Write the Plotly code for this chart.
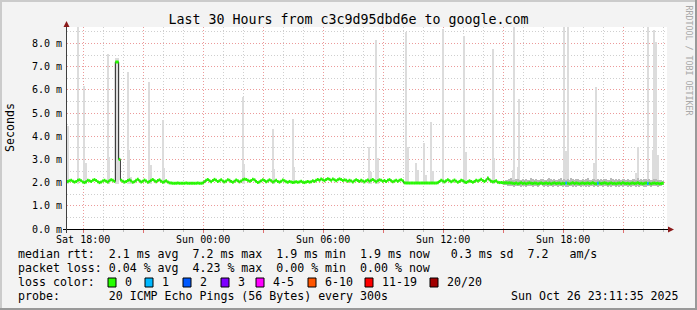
import plotly.graph_objects as go
from datetime import datetime, timedelta

# ---------------- data ----------------
title_text = "Last 30 Hours from c3c9d95dbd6e to google.com"
range_start = datetime(2025, 10, 25, 17, 11, 35)
range_end = datetime(2025, 10, 26, 23, 11, 35)
step_minutes = 5

# median rtt per 5-minute step (ms); None = no data yet
median_ms = [
    2.05, 2.08, 2.10, 2.06, 2.02, 2.05, 2.10, 2.12, 2.08, 2.03, 2.00, 2.04, 2.10, 2.08, 2.05, 2.10, 2.13, 2.09, 2.04, 2.00, 2.03, 2.07, 2.10, 2.06,
    2.03, 2.08, 2.12, 2.10, 2.05, 7.20, 7.20, 3.00, 2.10, 2.06, 2.02, 2.05, 2.09, 2.12, 2.07, 2.02, 2.04, 2.10, 2.14, 2.08, 2.03, 2.06, 2.11, 2.07,
    2.02, 2.05, 2.10, 2.13, 2.08, 2.04, 2.09, 2.12, 2.06, 2.02, 2.04, 2.08, 2.03, 1.99, 1.98, 1.97, 1.97, 1.97, 1.98, 1.97, 1.97, 1.97, 1.97, 1.98,
    1.97, 1.97, 1.97, 1.97, 1.97, 1.97, 1.98, 1.97, 1.97, 1.98, 2.04, 2.10, 2.13, 2.08, 2.04, 2.09, 2.14, 2.10, 2.05, 2.08, 2.12, 2.07, 2.03, 2.07,
    2.12, 2.10, 2.05, 2.02, 2.06, 2.11, 2.08, 2.03, 2.07, 2.12, 2.15, 2.13, 2.10, 2.06, 2.09, 2.14, 2.12, 2.05, 2.00, 2.03, 2.08, 2.12, 2.09, 2.04,
    2.07, 2.12, 2.08, 2.03, 2.06, 2.10, 2.05, 2.02, 2.06, 2.11, 2.08, 2.04, 2.02, 2.05, 2.03, 2.00, 2.02, 2.04, 2.01, 2.03, 2.06, 2.02, 2.00, 2.03,
    2.05, 2.02, 2.04, 2.08, 2.05, 2.10, 2.13, 2.10, 2.15, 2.12, 2.08, 2.13, 2.17, 2.14, 2.10, 2.15, 2.12, 2.08, 2.12, 2.16, 2.13, 2.09, 2.12, 2.10,
    2.06, 2.10, 2.07, 2.03, 2.08, 2.12, 2.09, 2.05, 2.10, 2.07, 2.03, 2.08, 2.11, 2.06, 2.10, 2.13, 2.08, 2.04, 2.08, 2.12, 2.10, 2.06, 2.09, 2.05,
    2.10, 2.13, 2.08, 2.04, 2.07, 2.10, 2.06, 2.10, 2.12, 2.08, 1.99, 1.98, 1.98, 1.98, 1.98, 1.98, 1.98, 1.98, 1.98, 1.98, 1.98, 1.98, 1.98, 1.98,
    1.98, 1.98, 1.98, 1.98, 1.98, 1.98, 1.99, 2.05, 2.10, 2.07, 2.03, 2.08, 2.12, 2.08, 2.04, 2.07, 2.11, 2.06, 2.02, 2.05, 2.10, 2.08, 2.03, 2.00,
    2.04, 2.08, 2.05, 2.01, 2.05, 2.10, 2.07, 2.10, 2.14, 2.09, 2.05, 2.10, 2.20, 2.12, 2.06, 2.04, 2.05, 2.08, 2.02, 2.00, 2.00, 1.99, 1.99, 1.99,
    1.98, 1.99, 1.98, 1.97, 1.96, 1.98, 1.95, 1.97, 1.99, 1.96, 1.98, 1.95, 1.97, 1.99, 1.97, 1.96, 1.98, 1.97, 1.95, 1.97, 1.98, 1.96, 1.97, 1.98,
    1.96, 1.98, 1.95, 1.97, 1.99, 1.96, 1.97, 1.98, 1.95, 1.97, 1.96, 1.98, 1.97, 1.95, 1.97, 1.99, 1.96, 1.98, 1.97, 1.95, 1.97, 1.98, 1.96, 1.97,
    1.98, 1.96, 1.97, 1.99, 1.96, 1.95, 1.97, 1.98, 1.96, 1.97, 1.99, 1.97, 1.95, 1.97, 1.98, 1.96, 1.97, 1.95, 1.97, 1.98, 1.96, 1.99, 1.97, 1.96,
    1.97, 1.95, 1.97, 1.98, 1.96, 1.97, 1.99, 1.96, 1.97, 1.95, 1.97, 1.98, 1.96, 1.97, 1.95, 1.97, 1.98, 1.96, 1.97, 1.95, 1.96, 1.97, None, None,
]

# steps where 1 of 20 pings was lost (others: 0 lost)
loss_one_steps = [299, 318, 348]

# tall smoke (max ping) per step
spike_steps = [0, 6, 10, 11, 24, 25, 29, 30, 36, 37, 38, 49, 50, 57, 58, 105, 106,
               123, 124, 135, 136, 181, 182, 185, 186, 203, 204, 209, 210, 214, 215,
               218, 219, 225, 238, 239, 255, 256, 267, 268, 270, 271, 298, 299, 300,
               316, 317, 341, 342, 348, 351, 352, 353, 354]
spike_top_ms = [4.45, 9.5, 6.16, 2.84, 7.54, 3.10, 7.35, 7.35, 6.77, 3.40, 2.25, 6.34, 2.76, 4.70, 2.63, 5.68, 2.80,
                4.30, 2.59, 4.74, 2.69, 3.55, 2.47, 8.15, 3.05, 8.50, 3.55, 2.86, 2.54, 3.72, 2.33,
                4.61, 2.51, 8.60, 8.30, 3.33, 7.75, 3.05, 2.54, 9.5, 2.69, 5.60, 9.5, 3.37, 9.5,
                2.83, 6.13, 2.41, 3.55, 9.5, 3.40, 8.58, 8.07, 3.19]
spike_floor_ms = 1.95

# denser smoke band (min..max ping) in the latest period
band_first_step = 262
band_lo_ms = [
    1.90, 1.88, 1.86, 1.85, 1.84, 1.86, 1.83, 1.85, 1.87, 1.84, 1.82, 1.85,
    1.86, 1.83, 1.84, 1.87, 1.85, 1.82, 1.84, 1.86, 1.83, 1.85, 1.88, 1.84,
    1.82, 1.85, 1.83, 1.86, 1.84, 1.81, 1.85, 1.87, 1.83, 1.84, 1.86, 1.82,
    1.85, 1.83, 1.80, 1.84, 1.86, 1.83, 1.85, 1.82, 1.84, 1.87, 1.83, 1.85,
    1.84, 1.82, 1.86, 1.83, 1.85, 1.84, 1.81, 1.85, 1.83, 1.86, 1.84, 1.82,
    1.85, 1.87, 1.83, 1.84, 1.82, 1.85, 1.86, 1.83, 1.84, 1.81, 1.85, 1.83,
    1.86, 1.84, 1.82, 1.85, 1.83, 1.86, 1.84, 1.82, 1.85, 1.83, 1.84, 1.86,
    1.83, 1.82, 1.85, 1.84, 1.83, 1.85, 1.84, 1.86, 1.83, 1.85, 1.87, 1.88,
]
band_hi_ms = [
    2.08, 2.10, 2.12, 2.15, 2.18, 2.12, 2.10, 2.14, 2.16, 2.11, 2.13, 2.17,
    2.12, 2.15, 2.10, 2.13, 2.18, 2.14, 2.11, 2.16, 2.12, 2.10, 2.14, 2.17,
    2.13, 2.11, 2.15, 2.19, 2.14, 2.12, 2.16, 2.13, 2.10, 2.15, 2.18, 2.12,
    2.14, 2.11, 2.16, 2.13, 2.20, 2.15, 2.12, 2.14, 2.17, 2.11, 2.13, 2.16,
    2.12, 2.15, 2.18, 2.13, 2.11, 2.14, 2.16, 2.12, 2.15, 2.13, 2.17, 2.12,
    2.14, 2.16, 2.11, 2.13, 2.18, 2.14, 2.12, 2.15, 2.13, 2.16, 2.11, 2.14,
    2.17, 2.12, 2.15, 2.13, 2.11, 2.16, 2.14, 2.12, 2.18, 2.13, 2.15, 2.12,
    2.14, 2.16, 2.12, 2.15, 2.13, 2.11, 2.14, 2.16, 2.12, 2.13, 2.10, 2.08,
]

x_major_ticks = ["2025-10-25 18:00", "2025-10-25 21:00", "2025-10-26 00:00", "2025-10-26 03:00",
                 "2025-10-26 06:00", "2025-10-26 09:00", "2025-10-26 12:00", "2025-10-26 15:00",
                 "2025-10-26 18:00", "2025-10-26 21:00"]
x_major_labels = ["Sat 18:00", "", "Sun 00:00", "", "Sun 06:00", "", "Sun 12:00", "", "Sun 18:00", ""]
y_tick_vals = [0, 1, 2, 3, 4, 5, 6, 7, 8]
y_tick_labels = ["0.0 m", "1.0 m", "2.0 m", "3.0 m", "4.0 m", "5.0 m", "6.0 m", "7.0 m", "8.0 m"]

loss_labels = ["0", "1", "2", "3", "4-5", "6-10", "11-19", "20/20"]
loss_colors = ["#26ff00", "#00b8ff", "#0059ff", "#7e00ff", "#ff00ff", "#ff5500", "#ff0000", "#a10000"]

stats_line1 = "median rtt:  2.1 ms avg  7.2 ms max  1.9 ms min  1.9 ms now   0.3 ms sd  7.2   am/s"
stats_line2 = "packet loss: 0.04 % avg  4.23 % max  0.00 % min  0.00 % now"
stats_line3 = "loss color:"
stats_line4 = "probe:       20 ICMP Echo Pings (56 Bytes) every 300s"
stamp_text = "Sun Oct 26 23:11:35 2025"
watermark = "RRDTOOL / TOBI OETIKER"

# ---------------- layout constants ----------------
W, H = 697, 310
L, R, T, B = 67, 30, 27, 81
PW, PH = W - L - R, H - T - B
MONO = "DejaVu Sans Mono"
step = timedelta(minutes=step_minutes)


def px(xp):
    return (xp - L) / PW


def py(yp):
    return (H - B - yp) / PH


def nb(s):
    return s.replace(" ", "\u00a0")


step_start = [range_start + i * step for i in range(len(median_ms))]
step_mid = [t + step / 2 for t in step_start]

fig = go.Figure()

# light smoke spikes
fig.add_trace(go.Bar(
    x=[step_mid[i] for i in spike_steps],
    y=[v - spike_floor_ms for v in spike_top_ms],
    base=[spike_floor_ms] * len(spike_steps),
    width=step.total_seconds() * 1000,
    marker=dict(color="#dcdcdc", line=dict(width=0)),
    hoverinfo="skip", showlegend=False,
))

# denser smoke band
band_idx = list(range(band_first_step, band_first_step + len(band_lo_ms)))
fig.add_trace(go.Bar(
    x=[step_mid[i] for i in band_idx],
    y=[h - l for l, h in zip(band_lo_ms, band_hi_ms)],
    base=band_lo_ms,
    width=step.total_seconds() * 1000,
    marker=dict(color="#b9b9b9", line=dict(width=0)),
    hoverinfo="skip", showlegend=False,
))

# thin dark median line (steps)
fig.add_trace(go.Scatter(
    x=step_start + [range_start + len(median_ms) * step],
    y=median_ms + [median_ms[-1]],
    mode="lines", line=dict(color="#202020", width=1, shape="hv"),
    hoverinfo="skip", showlegend=False,
))

# coloured median segments by loss
for color, select in ((loss_colors[0], lambda i: i not in loss_one_steps),
                      (loss_colors[1], lambda i: i in loss_one_steps)):
    xs, ys = [], []
    for i, m in enumerate(median_ms):
        if m is None or not select(i):
            continue
        xs += [step_start[i], step_start[i] + step, None]
        ys += [m, m, None]
    fig.add_trace(go.Scatter(x=xs, y=ys, mode="lines",
                             line=dict(color=color, width=3),
                             hoverinfo="skip", showlegend=False))

major_grid = "#ec9a9a"
minor_grid = "#cfcfcf"

fig.update_xaxes(
    type="date", range=[range_start, range_end],
    tickmode="array", tickvals=x_major_ticks, ticktext=x_major_labels,
    showgrid=True, gridcolor=major_grid, griddash="1px,2px", gridwidth=1,
    ticks="outside", ticklen=3, tickcolor="#e07070", ticklabelstandoff=-2,
    tickfont=dict(family=MONO, size=10, color="#000"),
    minor=dict(dtick=3600000, tick0="2025-10-25 00:00", showgrid=True,
               gridcolor=minor_grid, griddash="1px,2px", ticks="outside",
               ticklen=2, tickcolor="#c0c0c0"),
    showline=False, zeroline=False, automargin=False, fixedrange=True,
)
fig.update_yaxes(
    range=[0, PH / 23.2],
    tickmode="array", tickvals=y_tick_vals, ticktext=y_tick_labels,
    showgrid=True, gridcolor=major_grid, griddash="1px,2px", gridwidth=1,
    ticks="", ticklabelstandoff=4,
    tickfont=dict(family=MONO, size=10, color="#000"),
    minor=dict(dtick=0.5, tick0=0, showgrid=True, gridcolor=minor_grid, griddash="1px,2px"),
    showline=False, zeroline=False, automargin=False, fixedrange=True,
)

shapes = []
# outer border
shapes.append(dict(type="line", xref="paper", yref="paper", x0=px(0), x1=px(W), y0=py(1), y1=py(1),
                   line=dict(color="#cbcbcb", width=2)))
shapes.append(dict(type="line", xref="paper", yref="paper", x0=px(1), x1=px(1), y0=py(0), y1=py(H),
                   line=dict(color="#cbcbcb", width=2)))
shapes.append(dict(type="line", xref="paper", yref="paper", x0=px(0), x1=px(W), y0=py(H - 1), y1=py(H - 1),
                   line=dict(color="#999999", width=2)))
shapes.append(dict(type="line", xref="paper", yref="paper", x0=px(W - 1), x1=px(W - 1), y0=py(0), y1=py(H),
                   line=dict(color="#999999", width=2)))
# axes
shapes.append(dict(type="line", xref="paper", yref="paper", x0=px(63), x1=px(669), y0=py(229.5), y1=py(229.5),
                   line=dict(color="#000000", width=1)))
shapes.append(dict(type="line", xref="paper", yref="paper", x0=px(66.5), x1=px(66.5), y0=py(233), y1=py(25),
                   line=dict(color="#404040", width=1)))
# arrows
shapes.append(dict(type="path", xref="paper", yref="paper",
                   path=f"M {px(668)},{py(226.5)} L {px(674)},{py(229.5)} L {px(668)},{py(232.5)} Z",
                   fillcolor="#8b1a1a", line=dict(width=0)))
shapes.append(dict(type="path", xref="paper", yref="paper",
                   path=f"M {px(63.5)},{py(27)} L {px(66.5)},{py(21)} L {px(69.5)},{py(27)} Z",
                   fillcolor="#8b1a1a", line=dict(width=0)))

annotations = []
LEG = dict(family=MONO, size=11.6, color="#000")
rows_y = [254, 268, 282, 296]
for txt, yy in ((stats_line1, rows_y[0]), (stats_line2, rows_y[1]),
                (stats_line3, rows_y[2]), (stats_line4, rows_y[3])):
    annotations.append(dict(text=nb(txt), xref="paper", yref="paper", x=px(16), y=py(yy),
                            xanchor="left", yanchor="middle", showarrow=False, font=LEG))
annotations.append(dict(text=nb(stamp_text), xref="paper", yref="paper", x=px(681), y=py(rows_y[3]),
                        xanchor="right", yanchor="middle", showarrow=False, font=LEG))

box_left = [108, 145, 183, 221, 256, 308, 365, 430]
for bl, lab, col in zip(box_left, loss_labels, loss_colors):
    shapes.append(dict(type="rect", xref="paper", yref="paper",
                       x0=px(bl), x1=px(bl + 8), y0=py(rows_y[2] - 4), y1=py(rows_y[2] + 5),
                       fillcolor=col, line=dict(color="#000", width=1)))
    annotations.append(dict(text=nb(lab), xref="paper", yref="paper", x=px(bl + 15), y=py(rows_y[2]),
                            xanchor="left", yanchor="middle", showarrow=False, font=LEG))

annotations.append(dict(text="Seconds", xref="paper", yref="paper", x=px(10), y=0.5, textangle=-90,
                        xanchor="center", yanchor="middle", showarrow=False,
                        font=dict(family=MONO, size=11.6, color="#000")))
annotations.append(dict(text=nb(watermark), xref="paper", yref="paper", x=px(688.5), y=py(60), textangle=90,
                        xanchor="center", yanchor="middle", showarrow=False,
                        font=dict(family=MONO, size=8.3, color="#a8a8a8")))

fig.update_layout(
    width=W, height=H,
    margin=dict(l=L, r=R, t=T, b=B, pad=0, autoexpand=False),
    paper_bgcolor="#f3f3f3", plot_bgcolor="#ffffff",
    barmode="overlay", bargap=0,
    showlegend=False,
    title=dict(text=title_text, x=0.5, xref="container", xanchor="center",
               y=1 - 19 / H, yref="container", yanchor="middle",
               font=dict(family=MONO, size=13.3, color="#000")),
    shapes=shapes, annotations=annotations,
)

fig.write_html("out.html", config={"displayModeBar": False})
